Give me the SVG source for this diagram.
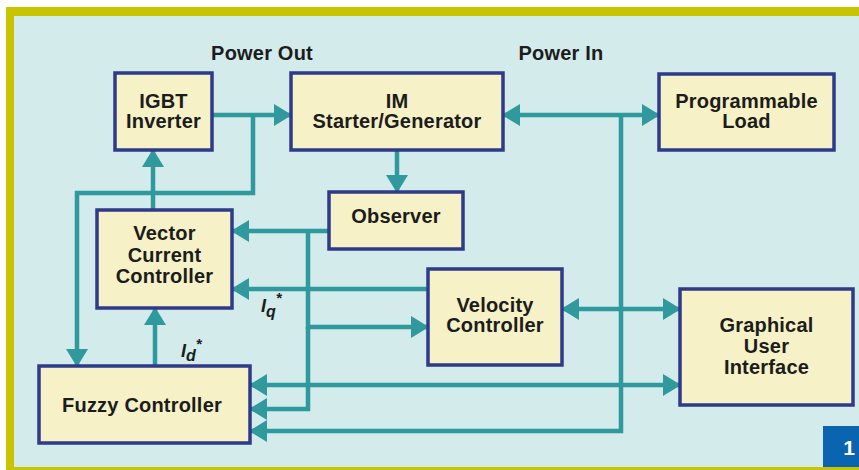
<svg xmlns="http://www.w3.org/2000/svg" width="859" height="470" viewBox="0 0 859 470">
<defs>
<style>
.node rect{fill:#f6f1c6;stroke:#2e3a8a;stroke-width:3.5}
.node text,.lbl{font-family:"Liberation Sans",Arial,sans-serif;font-weight:bold;font-size:20px;fill:#1c1c1c;text-anchor:middle;letter-spacing:0.2px}
.conn path{fill:none;stroke:#2f999d;stroke-width:4.5}
.sub{font-family:"Liberation Sans",Arial,sans-serif;font-weight:bold;font-style:italic;font-size:18px;fill:#1c1c1c}
</style>
<marker id="ah" viewBox="0 0 18 22" refX="17" refY="11" markerWidth="18" markerHeight="22" markerUnits="userSpaceOnUse" orient="auto-start-reverse">
<path d="M0,0 L18,11 L0,22 Z" fill="#2f999d"/>
</marker>
</defs>
<rect x="0" y="0" width="859" height="470" fill="#ffffff"/>
<rect x="6" y="7" width="853" height="463" fill="#c8c400"/>
<rect x="14" y="16" width="845" height="451" fill="#d3ebeb"/>

<text class="lbl" x="262" y="60">Power Out</text>
<text class="lbl" x="561" y="60">Power In</text>

<g class="conn" id="connectors">
<path d="M212,115 H291" marker-end="url(#ah)"/>
<path d="M253,115 V193 H77 V366" marker-end="url(#ah)"/>
<path d="M153,210 V150" marker-end="url(#ah)"/>
<path d="M397,150 V192" marker-end="url(#ah)"/>
<path d="M329,231 H232" marker-end="url(#ah)"/>
<path d="M308,231 V327 H428" marker-end="url(#ah)"/>
<path d="M308,327 V409 H250" marker-end="url(#ah)"/>
<path d="M428,289 H232" marker-end="url(#ah)"/>
<path d="M155,366 V308" marker-end="url(#ah)"/>
<path d="M562,309 H680" marker-start="url(#ah)" marker-end="url(#ah)"/>
<path d="M503,115 H659" marker-start="url(#ah)" marker-end="url(#ah)"/>
<path d="M621,115 V431 H250" marker-end="url(#ah)"/>
<path d="M250,385 H680" marker-start="url(#ah)" marker-end="url(#ah)"/>
</g>

<text class="sub" x="261" y="312">I<tspan dy="5" font-size="16">q</tspan><tspan dy="-14" font-size="15">*</tspan></text>
<text class="sub" x="181" y="357">I<tspan dy="4" font-size="16">d</tspan><tspan dy="-12" font-size="15">*</tspan></text>

<g class="node" id="igbt">
<rect x="115" y="73" width="97" height="77"/>
<text x="163.5" y="108">IGBT</text>
<text x="163.5" y="128">Inverter</text>
</g>
<g class="node" id="im">
<rect x="291" y="73" width="212" height="77"/>
<text x="397" y="108">IM</text>
<text x="397" y="128">Starter/Generator</text>
</g>
<g class="node" id="load">
<rect x="659" y="74" width="175" height="76"/>
<text x="746.5" y="108">Programmable</text>
<text x="746.5" y="128">Load</text>
</g>
<g class="node" id="observer">
<rect x="329" y="192" width="134" height="57"/>
<text x="396" y="223">Observer</text>
</g>
<g class="node" id="vcc">
<rect x="97" y="210" width="135" height="98"/>
<text x="164.5" y="240">Vector</text>
<text x="164.5" y="262">Current</text>
<text x="164.5" y="283">Controller</text>
</g>
<g class="node" id="velocity">
<rect x="428" y="269" width="134" height="96"/>
<text x="495" y="312">Velocity</text>
<text x="495" y="332">Controller</text>
</g>
<g class="node" id="gui">
<rect x="680" y="289" width="173" height="116"/>
<text x="766.5" y="332">Graphical</text>
<text x="766.5" y="353">User</text>
<text x="766.5" y="374">Interface</text>
</g>
<g class="node" id="fuzzy">
<rect x="39" y="366" width="211" height="77"/>
<text x="142" y="412">Fuzzy Controller</text>
</g>

<rect x="823" y="426" width="36" height="41" fill="#0a64b0"/>
<text x="849" y="455" font-family="Liberation Sans,Arial,sans-serif" font-weight="bold" font-size="21" fill="#ffffff" text-anchor="middle">1</text>
</svg>
